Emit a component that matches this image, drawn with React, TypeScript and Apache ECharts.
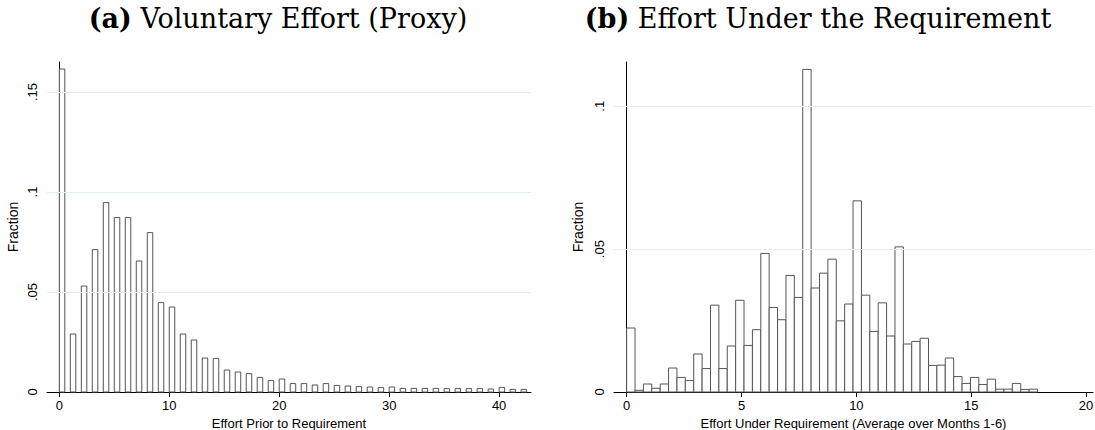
import React, { useEffect, useRef } from "react";
import * as echarts from "echarts";

// Panel (a): fraction per integer effort value 0..42 (bars span k .. k+0.5)
const leftFractions = [
  0.1615, 0.029, 0.053, 0.0712, 0.0947, 0.0872, 0.0872, 0.0655, 0.0797, 0.0447,
  0.0425, 0.029, 0.026, 0.017, 0.0168, 0.011, 0.0100, 0.0092, 0.0073, 0.0057,
  0.0065, 0.0042, 0.0042, 0.0035, 0.0042, 0.0033, 0.003, 0.0027, 0.0025, 0.0022,
  0.0025, 0.0018, 0.0018, 0.0018, 0.0018, 0.0017, 0.0017, 0.0017, 0.0017, 0.0015,
  0.0023, 0.0013, 0.0013,
];
const leftBinWidth = 0.5;

// Panel (b): fraction per bin of average effort (bins of width ~0.365 starting at 0)
const rightFractions = [
  0.0224, 0.0006, 0.0028, 0.0013, 0.0028, 0.0084, 0.0051, 0.004, 0.0133, 0.0082,
  0.0304, 0.0082, 0.0161, 0.0321, 0.0163, 0.0218, 0.0485, 0.0296, 0.0253, 0.0408,
  0.0331, 0.1129, 0.0364, 0.0416, 0.0465, 0.0249, 0.0308, 0.0669, 0.0339, 0.0212,
  0.0312, 0.0196, 0.0508, 0.0168, 0.0177, 0.0188, 0.0093, 0.0094, 0.0119, 0.0054,
  0.003, 0.0051, 0.0026, 0.0045, 0.001, 0.001, 0.003, 0.0009, 0.001,
];
const rightBinWidth = 0.365;

const leftXTicks = [0, 10, 20, 30, 40];
const rightXTicks = [0, 5, 10, 15, 20];
const leftYTicks = [0, 0.05, 0.1, 0.15];
const rightYTicks = [0, 0.05, 0.1];

const titleA = ["(a)", "Voluntary Effort (Proxy)"];
const titleB = ["(b)", "Effort Under the Requirement"];
const xNameA = "Effort Prior to Requirement";
const xNameB = "Effort Under Requirement (Average over Months 1-6)";
const yName = "Fraction";

const fmtY = (v: number) => {
  if (v === 0) return "0";
  return String(Number(v.toFixed(3))).replace(/^0/, "");
};

const SANS = "Liberation Sans, Arial, sans-serif";
const SERIF = "DejaVu Serif, serif";
const TICK_SIZE = 13;
const NAME_SIZE = 13;
const TITLE_SIZE = 27;

function renderBar(params: any, api: any) {
  const x0 = api.value(0);
  const x1 = api.value(1);
  const y = api.value(2);
  const p0 = api.coord([x0, y]);
  const p1 = api.coord([x1, 0]);
  return {
    type: "rect",
    shape: { x: p0[0], y: p0[1], width: p1[0] - p0[0], height: p1[1] - p0[1] },
    style: { fill: "#ffffff", stroke: "#555555", lineWidth: 1 },
  };
}

function gridLines(ticks: number[]) {
  return {
    silent: true,
    symbol: ["none", "none"],
    label: { show: false },
    lineStyle: { color: "#e6eeee", width: 1, type: "solid" },
    data: ticks.filter((t) => t > 0).map((t) => ({ yAxis: t })),
  };
}

function xAxisDef(gridIndex: number, min: number, max: number, ticks: number[], name: string) {
  return {
    type: "value",
    gridIndex,
    min,
    max,
    name,
    nameLocation: "middle",
    nameGap: 22,
    nameTextStyle: { fontFamily: SANS, fontSize: NAME_SIZE, color: "#000" },
    axisLine: { show: true, lineStyle: { color: "#000", width: 1 } },
    axisTick: { show: true, length: 5, customValues: ticks, lineStyle: { color: "#000" } },
    axisLabel: {
      customValues: ticks,
      fontFamily: SANS,
      fontSize: TICK_SIZE,
      color: "#000",
      margin: 7,
    },
    splitLine: { show: false },
  };
}

function yAxisDef(gridIndex: number, max: number, ticks: number[], nameGap: number) {
  return {
    type: "value",
    gridIndex,
    min: 0,
    max,
    name: yName,
    nameLocation: "middle",
    nameRotate: 90,
    nameGap,
    nameTextStyle: { fontFamily: SANS, fontSize: 14, color: "#000" },
    axisLine: { show: true, lineStyle: { color: "#000", width: 1 } },
    axisTick: { show: true, length: 5, customValues: ticks, lineStyle: { color: "#000" } },
    axisLabel: {
      customValues: ticks,
      rotate: 90,
      fontFamily: SANS,
      fontSize: TICK_SIZE,
      color: "#000",
      margin: 8,
      formatter: fmtY,
    },
    splitLine: { show: false },
  };
}

function titleText(x: number, parts: string[]) {
  return {
    type: "text",
    x,
    y: 18,
    style: {
      text: `{b|${parts[0]}} ${parts[1]}`,
      align: "center",
      verticalAlign: "middle",
      fontFamily: SERIF,
      fontSize: TITLE_SIZE,
      fill: "#000",
      rich: { b: { fontWeight: "bold", fontFamily: SERIF, fontSize: TITLE_SIZE } },
    },
  };
}

export default function App() {
  const ref = useRef<HTMLDivElement>(null);
  useEffect(() => {
    if (!ref.current) return;
    const chart = echarts.init(ref.current, null, { renderer: "svg" });
    const leftData = leftFractions.map((v, i) => [i, i + leftBinWidth, v]);
    const rightData = rightFractions.map((v, i) => [i * rightBinWidth, (i + 1) * rightBinWidth, v]);
    chart.setOption({
      animation: false,
      backgroundColor: "#ffffff",
      grid: [
        { left: 47, right: 564, top: 62, bottom: 38, containLabel: false, outerBoundsMode: "none" },
        { left: 614, right: 2, top: 62, bottom: 38, containLabel: false, outerBoundsMode: "none" },
      ],
      xAxis: [
        xAxisDef(0, -1.12, 42.9, leftXTicks, xNameA),
        xAxisDef(1, -0.55, 20.3, rightXTicks, xNameB),
      ],
      yAxis: [yAxisDef(0, 0.165, leftYTicks, 27), yAxisDef(1, 0.1155, rightYTicks, 29)],
      graphic: [titleText(278, titleA), titleText(818, titleB)],
      series: [
        {
          type: "custom",
          xAxisIndex: 0,
          yAxisIndex: 0,
          renderItem: renderBar,
          encode: { x: [0, 1], y: 2 },
          data: leftData,
          markLine: gridLines(leftYTicks),
          z: 2,
        },
        {
          type: "custom",
          xAxisIndex: 1,
          yAxisIndex: 1,
          renderItem: renderBar,
          encode: { x: [0, 1], y: 2 },
          data: rightData,
          markLine: gridLines(rightYTicks),
          z: 2,
        },
      ],
    });
    return () => chart.dispose();
  }, []);
  return (
    <div
      ref={ref}
      style={{ position: "fixed", left: 0, top: 0, width: 1095, height: 430, background: "#fff" }}
    />
  );
}
